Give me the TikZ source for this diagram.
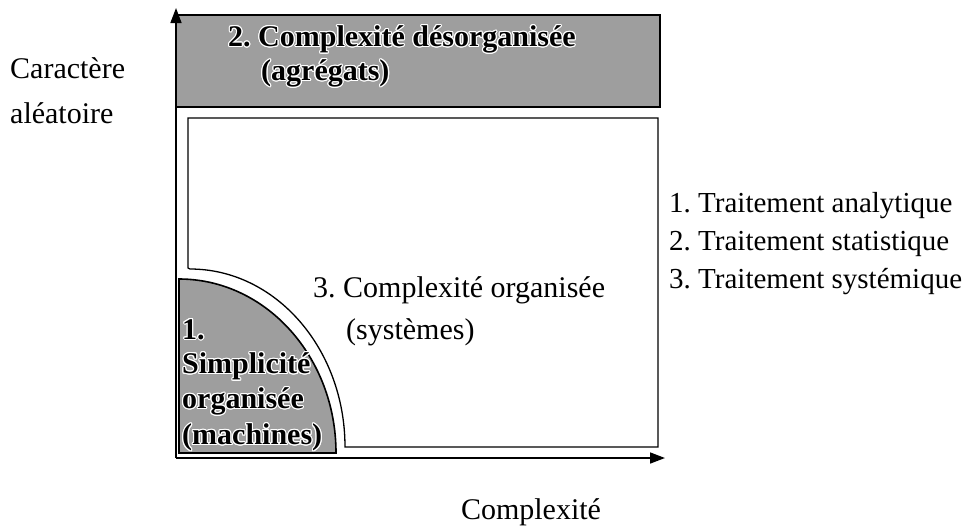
\documentclass[tikz,border=0pt]{standalone}
\usepackage{fontspec}
\setmainfont{Liberation Serif}
\usepackage{contour}
\contourlength{1.1pt}
\contournumber{16}
\usetikzlibrary{arrows.meta}
\definecolor{shade}{RGB}{158,158,158}
\newcommand{\halo}[1]{\contour{white}{\textbf{#1}}}
\frenchspacing
\begin{document}
\begin{tikzpicture}[x=1pt,y=-1pt,
  txt/.style={inner sep=0pt,anchor=west,font=\fontsize{30}{36}\selectfont},
  listtxt/.style={inner sep=0pt,anchor=west,font=\fontsize{29}{34}\selectfont},
  bold/.style={txt},
  ctr/.style={inner sep=0pt,anchor=center,font=\fontsize{30}{36}\selectfont},
  axis/.style={line width=1.6pt,-{Triangle[length=15pt,width=11pt]}},
  frame/.style={line width=1.3pt},
  zone/.style={line width=1.6pt,fill=shade}]
\useasboundingbox (0,0) rectangle (967,531);

% shaded band: disordered complexity
\draw[zone] (176,15) rectangle (660,107);
% shaded quarter: organised simplicity (quarter ellipse)
\draw[zone] (179,453) -- (179,279)
  .. controls (265.7,279) and (336,356.9) .. (336,453) -- cycle;
% white region: organised complexity, notched at the lower left
\draw[frame] (188,268) -- (188,118) -- (658,118) -- (658,447) -- (345,447)
  .. controls (345,348.7) and (275.6,269) .. (190,269) -- cycle;

% axes
\coordinate (o) at (176,458);
\coordinate (ytip) at (176,8);
\coordinate (xtip) at (665,458);
\draw[axis] (o) -- (ytip);
\draw[axis] (o) -- (xtip);

% axis labels
\node[txt] (ya) at (10,68) {Caractère};
\node[txt] (yb) at (10,113) {aléatoire};
\node[ctr] (xl) at (531,512) {Complexité};

% band labels
\node[bold] (d1) at (228,40) {\halo{2. Complexité désorganisée}};
\node[bold] (d2) at (261,74) {\halo{(agrégats)}};

% quarter labels
\node[bold] (s1) at (182,330) {\halo{1.}};
\node[bold] (s2) at (182,367) {\halo{Simplicité}};
\node[bold] (s3) at (182,402) {\halo{organisée}};
\node[bold] (s4) at (182,438) {\halo{(machines)}};

% white region labels
\node[txt] (c1) at (313,290) {3. Complexité organisée};
\node[txt] (c2) at (346,332) {(systèmes)};

% treatments
\node[listtxt] (t1) at (669,206) {1. Traitement analytique};
\node[listtxt] (t2) at (669,244) {2. Traitement statistique};
\node[listtxt] (t3) at (669,282) {3. Traitement systémique};
\end{tikzpicture}
\end{document}
